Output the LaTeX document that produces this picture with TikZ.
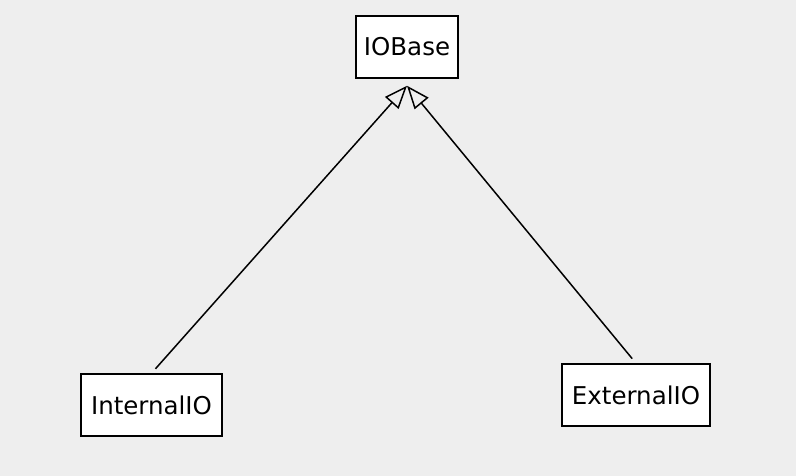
\documentclass[tikz,border=0pt]{standalone}
\usepackage{fontspec}
\setmainfont{DejaVu Sans}
\usetikzlibrary{arrows.meta}
\definecolor{bg}{HTML}{EEEEEE}
\begin{document}
\begin{tikzpicture}[x=1pt,y=-1pt,
  classbox/.style={draw=black, fill=white, line width=1.5pt, inner sep=0pt, font=\fontsize{24.5}{27}\selectfont},
  inherit/.style={draw=black, line width=1.5pt, -{Triangle[open, length=23pt, width=18pt, fill=bg]}, shorten <=6pt}]
  \fill[bg] (0,0) rectangle (796,476);
  \useasboundingbox (0,0) rectangle (796,476);
  \node[classbox, minimum width=102pt, minimum height=62pt] (base) at (407,47) {IOBase};
  \node[classbox, minimum width=141pt, minimum height=62pt] (int) at (151.5,405) {InternalIO};
  \node[classbox, minimum width=148pt, minimum height=62pt] (ext) at (636,395) {ExternalIO};
  \coordinate (tip) at ([yshift=-7pt]base.south);
  \draw[inherit] (int.north) -- (tip);
  \draw[inherit] (ext.north) -- (tip);
\end{tikzpicture}
\end{document}
